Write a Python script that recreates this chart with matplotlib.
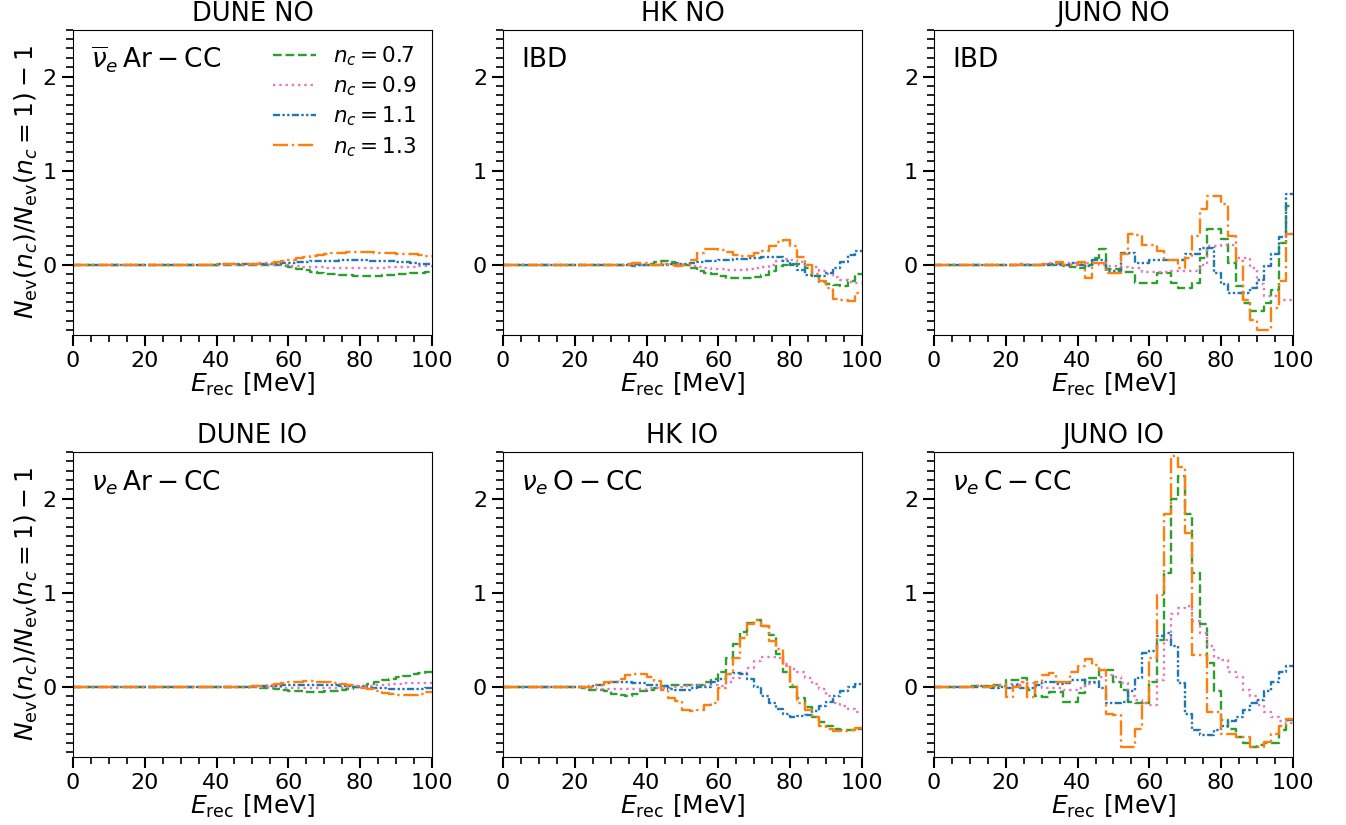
import numpy as np
import matplotlib
matplotlib.use("Agg")
import matplotlib.pyplot as plt
from matplotlib.ticker import MultipleLocator

# reconstructed energy bin edges [MeV], 2 MeV wide
edges = np.arange(0, 101, 2)

nc_labels = [r"$n_c=0.7$", r"$n_c=0.9$", r"$n_c=1.1$", r"$n_c=1.3$"]

# ---- DUNE NO (anti-nu_e Ar CC)
dune_no_07 = [0, 0, 0, 0, 0, 0, 0, 0, 0, 0,
              0, 0, 0, 0, 0, 0, 0, 0, 0, 0,
              -0.002, -0.002, -0.003, -0.003, -0.004, -0.004, -0.005, -0.007, -0.01, -0.02,
              -0.03, -0.045, -0.06, -0.075, -0.088, -0.098, -0.106, -0.112, -0.116, -0.118,
              -0.12, -0.12, -0.118, -0.115, -0.111, -0.106, -0.1, -0.094, -0.088, -0.082]
dune_no_09 = [0, 0, 0, 0, 0, 0, 0, 0, 0, 0,
              0, 0, 0, 0, 0, 0, 0, 0, 0, 0,
              -0.001, -0.001, -0.001, -0.002, -0.002, -0.002, -0.003, -0.004, -0.005, -0.01,
              -0.015, -0.02, -0.025, -0.028, -0.031, -0.033, -0.035, -0.036, -0.037, -0.037,
              -0.037, -0.036, -0.035, -0.033, -0.031, -0.029, -0.027, -0.024, -0.021, -0.018]
dune_no_11 = [0, 0, 0, 0, 0, 0, 0, 0, 0, 0,
              0, 0, 0, 0, 0, 0, 0, 0, 0, 0,
              0.001, 0.001, 0.001, 0.002, 0.002, 0.003, 0.004, 0.006, 0.01, 0.015,
              0.02, 0.025, 0.03, 0.035, 0.038, 0.04, 0.042, 0.043, 0.044, 0.044,
              0.043, 0.042, 0.04, 0.038, 0.035, 0.03, 0.025, 0.018, 0.01, 0.004]
dune_no_13 = [0, 0, 0, 0, 0, 0, 0, 0, 0, 0,
              0, 0, 0, 0, 0, 0, 0, 0, 0, 0,
              0.003, 0.004, 0.005, 0.005, 0.006, 0.01, 0.015, 0.02, 0.03, 0.04,
              0.05, 0.065, 0.08, 0.095, 0.105, 0.115, 0.12, 0.125, 0.128, 0.13,
              0.13, 0.128, 0.125, 0.122, 0.12, 0.117, 0.113, 0.107, 0.098, 0.088]

# ---- HK NO (IBD)
hk_no_07 = [0, 0, 0, 0, 0, 0, 0, 0, 0, 0,
            0, 0, 0, 0, 0, 0, 0, -0.01, -0.02, -0.01,
            0.01, 0.03, 0.035, 0.03, 0.02, 0.0, -0.04, -0.07, -0.09, -0.1,
            -0.12, -0.14, -0.145, -0.145, -0.14, -0.135, -0.11, -0.07, -0.02, 0.0,
            0.005, 0.005, -0.04, -0.12, -0.19, -0.21, -0.22, -0.23, -0.18, -0.1]
hk_no_09 = [0, 0, 0, 0, 0, 0, 0, 0, 0, 0,
            0, 0, 0, 0, 0, 0, 0, 0.0, -0.005, -0.01,
            -0.01, 0.0, 0.01, 0.01, 0.005, 0.0, -0.015, -0.03, -0.04, -0.045,
            -0.05, -0.055, -0.055, -0.055, -0.05, -0.04, -0.025, 0.0, 0.04, 0.055,
            0.05, 0.03, 0.0, -0.03, -0.07, -0.1, -0.13, -0.16, -0.19, -0.2]
hk_no_11 = [0, 0, 0, 0, 0, 0, 0, 0, 0, 0,
            0, 0, 0, 0, 0, 0, 0, 0.0, 0.005, 0.0,
            -0.01, -0.01, 0.0, 0.005, 0.005, 0.01, 0.02, 0.03, 0.035, 0.04,
            0.045, 0.05, 0.055, 0.06, 0.065, 0.07, 0.075, 0.08, 0.075, 0.04,
            0.0, -0.06, -0.11, -0.125, -0.12, -0.09, -0.04, 0.03, 0.1, 0.14]
hk_no_13 = [0, 0, 0, 0, 0, 0, 0, 0, 0, 0,
            0, 0, 0, 0, 0, 0, 0, 0.005, 0.02, 0.015,
            0.0, -0.005, 0.005, -0.01, -0.02, 0.0, 0.05, 0.12, 0.16, 0.17,
            0.15, 0.13, 0.1, 0.09, 0.09, 0.12, 0.14, 0.2, 0.24, 0.26,
            0.2, 0.08, 0.0, -0.1, -0.18, -0.25, -0.37, -0.38, -0.39, -0.3]

# ---- JUNO NO (IBD)
juno_no_07 = [0, 0, 0, 0, 0, 0, 0, 0, 0, 0,
              0, 0, 0, 0, 0.0, -0.01, 0.0, 0.01, -0.02, -0.03,
              -0.036, 0.0, 0.07, 0.17, -0.05, -0.05, -0.08, -0.08, -0.2, -0.2,
              -0.2, -0.09, -0.09, -0.2, -0.25, -0.25, -0.2, 0.07, 0.375, 0.375,
              0.27, 0.02, -0.23, -0.41, -0.5, -0.5, -0.41, -0.27, 0.23, 0.62]
juno_no_09 = [0, 0, 0, 0, 0, 0, 0, 0, 0, 0,
              0, 0, 0, 0, 0.0, 0.01, 0.0, 0.01, 0.02, 0.02,
              0.02, 0.02, 0.01, -0.01, -0.02, -0.02, -0.03, -0.036, -0.036, -0.08,
              -0.08, -0.08, -0.08, -0.07, -0.07, -0.07, -0.07, 0.0, 0.2, 0.2,
              0.21, 0.21, 0.07, 0.07, -0.036, -0.21, -0.34, -0.34, -0.375, -0.375]
juno_no_11 = [0, 0, 0, 0, 0, 0, 0, 0, 0, 0,
              0, 0, 0, 0, 0.0, -0.01, 0.01, 0.0, 0.0, 0.02,
              0.0, -0.02, 0.05, 0.05, -0.07, -0.07, 0.125, 0.125, 0.02, 0.02,
              0.05, 0.05, 0.05, 0.05, 0.05, 0.107, 0.107, 0.18, 0.18, -0.09,
              -0.21, -0.3, -0.3, -0.3, -0.25, -0.16, -0.02, 0.107, 0.29, 0.75]
juno_no_13 = [0, 0, 0, 0, 0, 0, 0, 0, 0, 0,
              0, 0, 0.005, 0.0, 0.0, 0.005, 0.02, 0.03, 0.0, 0.0,
              0.03, -0.14, 0.02, 0.02, -0.09, -0.09, 0.11, 0.32, 0.31, 0.21,
              0.21, 0.14, 0.05, 0.05, -0.04, 0.07, 0.3, 0.59, 0.73, 0.73,
              0.64, 0.3, 0.04, -0.38, -0.59, -0.7, -0.7, -0.46, -0.18, 0.32]

# ---- DUNE IO (nu_e Ar CC)
dune_io_07 = [0, 0, 0, 0, 0, 0, 0, 0, 0, 0,
              0, 0, 0, 0, 0, 0, 0, 0, 0, 0,
              0, 0, 0, 0, 0, -0.005, -0.01, -0.015, -0.025, -0.035,
              -0.045, -0.05, -0.053, -0.054, -0.053, -0.05, -0.045, -0.035, -0.022, -0.008,
              0.01, 0.03, 0.05, 0.07, 0.085, 0.1, 0.115, 0.13, 0.145, 0.16]
dune_io_09 = [0, 0, 0, 0, 0, 0, 0, 0, 0, 0,
              0, 0, 0, 0, 0, 0, 0, 0, 0, 0,
              0, 0, 0, 0, 0, -0.002, -0.004, -0.006, -0.009, -0.012,
              -0.015, -0.017, -0.018, -0.018, -0.017, -0.016, -0.014, -0.01, -0.006, -0.002,
              0.004, 0.01, 0.016, 0.022, 0.026, 0.03, 0.033, 0.035, 0.036, 0.037]
dune_io_11 = [0, 0, 0, 0, 0, 0, 0, 0, 0, 0,
              0, 0, 0, 0, 0, 0, 0, 0, 0, 0,
              0, 0, 0, 0, 0, 0.002, 0.004, 0.007, 0.01, 0.013,
              0.016, 0.018, 0.019, 0.019, 0.018, 0.016, 0.013, 0.009, 0.005, 0.0,
              -0.005, -0.01, -0.014, -0.018, -0.021, -0.023, -0.024, -0.024, -0.022, -0.018]
dune_io_13 = [0, 0, 0, 0, 0, 0, 0, 0, 0, 0,
              0, 0, 0, 0, 0, 0, 0, 0, 0, 0,
              0, 0, 0, 0, 0, 0.005, 0.01, 0.02, 0.03, 0.04,
              0.048, 0.053, 0.055, 0.055, 0.053, 0.048, 0.04, 0.03, 0.018, 0.004,
              -0.012, -0.03, -0.048, -0.065, -0.078, -0.088, -0.092, -0.09, -0.08, -0.06]

# ---- HK IO (nu_e O CC)
hk_io_07 = [0, 0, 0, 0, 0, 0, 0, 0, 0, 0,
            0.0, -0.01, -0.035, -0.04, -0.05, -0.08, -0.09, -0.095, -0.08, -0.05,
            -0.04, -0.01, 0.01, 0.02, 0.02, 0.02, 0.02, 0.02, 0.05, 0.08,
            0.15, 0.3, 0.45, 0.58, 0.68, 0.71, 0.65, 0.55, 0.35, 0.15,
            0.0, -0.12, -0.22, -0.32, -0.38, -0.42, -0.45, -0.46, -0.46, -0.45]
hk_io_09 = [0, 0, 0, 0, 0, 0, 0, 0, 0, 0,
            0.0, -0.01, -0.02, -0.03, -0.03, -0.03, -0.03, -0.03, -0.03, -0.025,
            -0.02, -0.01, -0.01, -0.01, 0.0, 0.01, 0.02, 0.02, 0.02, 0.015,
            0.01, 0.05, 0.09, 0.14, 0.2, 0.27, 0.31, 0.32, 0.3, 0.24,
            0.19, 0.15, 0.09, 0.03, -0.03, -0.1, -0.17, -0.21, -0.24, -0.27]
hk_io_11 = [0, 0, 0, 0, 0, 0, 0, 0, 0, 0,
            0.0, 0.0, 0.01, 0.02, 0.04, 0.045, 0.045, 0.045, 0.04, 0.04,
            0.02, 0.02, 0.01, -0.03, -0.035, -0.035, -0.01, -0.005, 0.0, 0.05,
            0.08, 0.13, 0.14, 0.13, 0.08, 0.0, -0.1, -0.18, -0.24, -0.29,
            -0.32, -0.31, -0.3, -0.26, -0.21, -0.16, -0.1, -0.05, 0.0, 0.03]
hk_io_13 = [0, 0, 0, 0, 0, 0, 0, 0, 0, 0,
            0.0, 0.0, 0.0, 0.02, 0.05, 0.05, 0.08, 0.12, 0.135, 0.13,
            0.1, 0.06, -0.04, -0.12, -0.15, -0.25, -0.26, -0.25, -0.2, -0.17,
            -0.02, 0.13, 0.3, 0.52, 0.67, 0.71, 0.65, 0.48, 0.4, 0.22,
            0.02, -0.18, -0.25, -0.32, -0.42, -0.45, -0.47, -0.47, -0.46, -0.44]

# ---- JUNO IO (nu_e C CC)
juno_io_07 = [0, 0, 0, 0, 0, 0.01, 0, 0.01, 0.02, 0.01,
              0.07, 0.07, 0.09, -0.04, -0.1, -0.11, -0.06, -0.06, -0.16, -0.16,
              -0.07, 0.09, 0.09, 0.18, 0.18, 0.05, -0.04, -0.16, -0.18, -0.18,
              0.05, 0.5, 1.21, 2.0, 2.24, 1.84, 1.21, 0.67, 0.25, -0.05,
              -0.36, -0.45, -0.54, -0.6, -0.64, -0.62, -0.6, -0.6, -0.46, -0.36]
juno_io_09 = [0, 0, 0, 0, 0, 0, 0.01, 0, 0.01, 0.02,
              0.03, 0.03, 0.05, 0.04, 0.0, -0.02, -0.02, -0.02, -0.04, -0.04,
              -0.01, 0.03, 0.04, 0.1, 0.12, 0.1, 0.04, -0.1, -0.14, -0.18,
              -0.2, 0.07, 0.5, 0.77, 0.84, 0.86, 0.7, 0.57, 0.43, 0.3,
              0.28, 0.16, 0.1, -0.04, -0.1, -0.2, -0.27, -0.32, -0.37, -0.39]
juno_io_11 = [0, 0, 0, 0, 0, 0, 0.01, 0, -0.01, 0.0,
              -0.02, 0.02, -0.02, -0.02, 0.02, 0.05, 0.05, 0.03, 0.04, 0.07,
              0.07, 0.05, 0.05, -0.02, -0.18, -0.18, -0.16, -0.05, 0.09, 0.36,
              0.375, 0.54, 0.57, 0.43, 0.04, -0.29, -0.46, -0.52, -0.52, -0.46,
              -0.42, -0.37, -0.32, -0.25, -0.18, -0.14, -0.05, 0.05, 0.15, 0.22]
juno_io_13 = [0, 0, 0, 0, 0, 0, 0.01, 0, 0.01, 0.02,
              -0.107, 0.0, 0.05, -0.107, 0.05, 0.125, 0.14, 0.05, 0.05, 0.16,
              0.22, 0.29, 0.23, 0.18, -0.29, -0.3, -0.64, -0.64, -0.45, -0.18,
              0.3, 0.98, 1.84, 2.46, 2.34, 1.63, 0.34, 0.34, -0.27, -0.27,
              -0.5, -0.5, -0.54, -0.54, -0.64, -0.64, -0.59, -0.5, -0.42, -0.35]

titles = ["DUNE NO", "HK NO", "JUNO NO", "DUNE IO", "HK IO", "JUNO IO"]
channels = [r"$\overline{\nu}_e\,\mathrm{Ar}-\mathrm{CC}$", "IBD", "IBD",
            r"$\nu_e\,\mathrm{Ar}-\mathrm{CC}$", r"$\nu_e\,\mathrm{O}-\mathrm{CC}$",
            r"$\nu_e\,\mathrm{C}-\mathrm{CC}$"]
panels = [
    [dune_no_07, dune_no_09, dune_no_11, dune_no_13],
    [hk_no_07, hk_no_09, hk_no_11, hk_no_13],
    [juno_no_07, juno_no_09, juno_no_11, juno_no_13],
    [dune_io_07, dune_io_09, dune_io_11, dune_io_13],
    [hk_io_07, hk_io_09, hk_io_11, hk_io_13],
    [juno_io_07, juno_io_09, juno_io_11, juno_io_13],
]

colors = ["#2ca02c", "#e377c2", "#1f77b4", "#ff7f0e"]
styles = ["--", ":", (0, (3, 1, 1, 1, 1, 1)), "-."]

fig = plt.figure(figsize=(13.46, 8.25), dpi=100)
lefts = [0.0542, 0.3737, 0.6939]
bottoms = [0.594, 0.0824]

for k in range(6):
    row, col = divmod(k, 3)
    ax = fig.add_axes([lefts[col], bottoms[row], 0.2667, 0.370])
    for vals, c, ls, lab in zip(panels[k], colors, styles, nc_labels):
        y = np.append(vals, vals[-1])
        ax.step(edges, y, where="post", color=c, ls=ls, lw=1.7, label=lab)
    ax.set_xlim(0, 100)
    ax.set_ylim(-0.75, 2.5)
    ax.set_xticks([0, 20, 40, 60, 80, 100])
    ax.set_yticks([0, 1, 2])
    ax.xaxis.set_minor_locator(MultipleLocator(5))
    ax.yaxis.set_minor_locator(MultipleLocator(0.1))
    ax.tick_params(which="major", length=8, width=1.5, labelsize=16)
    ax.tick_params(which="minor", length=5, width=1.2)
    ax.set_title(titles[k], fontsize=18.5)
    ax.set_xlabel(r"$E_{\rm rec}$ [MeV]", fontsize=18, labelpad=0)
    ax.text(0.05, 0.9, channels[k], transform=ax.transAxes, fontsize=19,
            ha="left", va="center")
    if col == 0:
        ax.set_ylabel(r"$N_{\rm ev}(n_c)/N_{\rm ev}(n_c=1)-1$", fontsize=18,
                      labelpad=2)
    if k == 0:
        ax.legend(loc="upper right", frameon=False, fontsize=15.5,
                  handlelength=2.0, labelspacing=0.3, borderaxespad=0.3)

fig.savefig("out.png", dpi=100)
